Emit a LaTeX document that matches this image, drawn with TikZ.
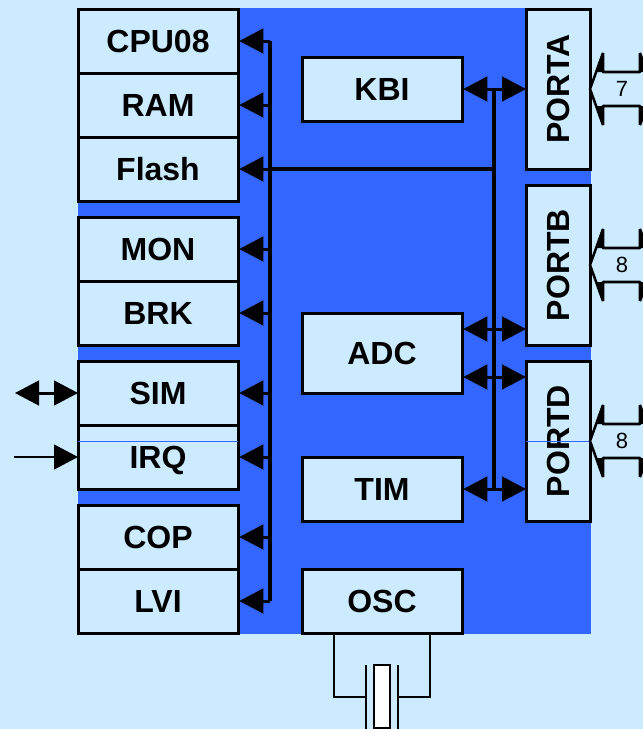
\documentclass[tikz,border=0pt]{standalone}
\usepackage{fontspec}
\setmainfont{Liberation Sans}
\usetikzlibrary{arrows.meta}
\definecolor{pale}{HTML}{CCEBFF}
\definecolor{royal}{HTML}{3366FF}
\tikzset{
  x=0.75pt,y=-0.75pt,
  base/.style={draw=black,fill=pale,line width=2.25pt,inner sep=0pt,outer sep=0pt,
    font=\fontsize{24}{24}\bfseries,text=black},
  blk/.style={base,minimum width=120pt,text height=17.2pt,text depth=0pt},
  prt/.style={base,minimum width=48pt,minimum height=120pt},
  h48/.style={minimum height=48pt},
  h60/.style={minimum height=60pt},
  big/.style={-{Triangle[length=18pt,width=19pt,line width=0pt]},line width=2.25pt,black},
  dbl/.style={{Triangle[length=18pt,width=19pt,line width=0pt]}-{Triangle[length=18pt,width=19pt,line width=0pt]},line width=2.25pt,black},
  bus/.style={line width=2.8pt,black},
  thin/.style={line width=1.7pt,black},
  hair/.style={line width=0.75pt,royal},
  pin/.style={draw=black,line width=1.9pt,line join=bevel},
  num/.style={font=\fontsize{16.5}{16.5}\selectfont,text=black,inner sep=0pt}
}
\begin{document}
\begin{tikzpicture}
\useasboundingbox (0,0) rectangle (643,729);
\clip (0,0) rectangle (643,729);
\fill[pale] (0,0) rectangle (643,729);
\fill[royal] (78,8) rectangle (591,634);
% left column
\node[blk,h48] (cpu) at (158,41) {CPU08};
\node[blk,h48] (ram) at (158,105) {RAM};
\node[blk,h48] (fla) at (158,169) {Flash};
\node[blk,h48] (mon) at (158,249) {MON};
\node[blk,h48] (brk) at (158,313) {BRK};
\node[blk,h48] (sim) at (158,393) {SIM};
\node[blk,h48] (irq) at (158,457) {IRQ};
\node[blk,h48] (cop) at (158,537) {COP};
\node[blk,h48] (lvi) at (158,601) {LVI};
% middle column
\node[blk,h48] (kbi) at (382,89) {KBI};
\node[blk,h60] (adc) at (382,353) {ADC};
\node[blk,h48] (tim) at (382,489) {TIM};
\node[blk,h48] (osc) at (382,601) {OSC};
% ports
\node[prt] (pa) at (558,89) {\rotatebox{90}{PORTA}};
\node[prt] (pb) at (558,265) {\rotatebox{90}{PORTB}};
\node[prt] (pd) at (558,441) {\rotatebox{90}{PORTD}};
% hairlines
\draw[hair] (irq.west |- 0,441) -- (irq.east |- 0,441);
\draw[hair] (pd.west) -- (pd.east);
% buses
\coordinate (lt) at (270,41);
\coordinate (lb) at (270,601);
\coordinate (rt) at (494,89);
\coordinate (rb) at (494,489);
\draw[bus,line cap=square] (lt) -- (lb);
\draw[bus,line cap=square] (rt) -- (rb);
\draw[bus] (270,169) -- (494,169);
% left-bus arrows
\foreach \n in {cpu,ram,fla,mon,brk,sim,irq,cop,lvi}
  \draw[big,shorten >=1pt] (270,0 |- \n.east) -- (\n.east);
% right-bus arrows
\draw[dbl,shorten <=1pt] (kbi.east) -- (pa.west);
\draw[dbl,shorten <=1pt] (adc.east |- 0,329) -- (pb.west |- 0,329);
\draw[dbl,shorten <=1pt] (adc.east |- 0,377) -- (pd.west |- 0,377);
\draw[dbl,shorten <=1pt] (tim.east) -- (pd.west |- tim.east);
% external
\coordinate (ext1) at (15,393);
\coordinate (ext2) at (14,457);
\draw[dbl] (ext1) -- (sim.west);
\draw[thin,-{Triangle[length=18pt,width=19pt,line width=0pt]}] (ext2) -- (irq.west);
% port pins
\foreach \p/\y/\t in {pa/89/7,pb/265/8,pd/441/8}{
  \path[pin,fill=pale] (\p.east |- 0,\y) -- ++(13,-36) -- ++(0,19) -- ++(37,0) -- ++(0,-19) -- ++(13,36) -- ++(-13,36) -- ++(0,-19) -- ++(-37,0) -- ++(0,19) -- cycle;
  \fill[black] (\p.east |- 0,\y) ++(6,-17) -- ++(7,-19) -- ++(0,19) -- cycle;
  \fill[black] (\p.east |- 0,\y) ++(6,17) -- ++(7,19) -- ++(0,-19) -- cycle;
  \fill[black] (\p.east |- 0,\y) ++(50,-36) -- ++(0,19) -- ++(7,0) -- cycle;
  \fill[black] (\p.east |- 0,\y) ++(50,36) -- ++(0,-19) -- ++(7,0) -- cycle;
  \node[num] (n\p) at (622,\y) {\t};
}
% crystal
\coordinate (p1) at (366,697);
\coordinate (p2) at (398,697);
\draw[thin] (334,0 |- osc.south) -- (334,697) -- (p1);
\draw[thin] (430,0 |- osc.south) -- (430,697) -- (p2);
\draw[thin] (366,665) -- (366,729);
\draw[thin] (398,665) -- (398,729);
\draw[thin,fill=white] (374,665) rectangle (390,728);
\end{tikzpicture}
\end{document}
